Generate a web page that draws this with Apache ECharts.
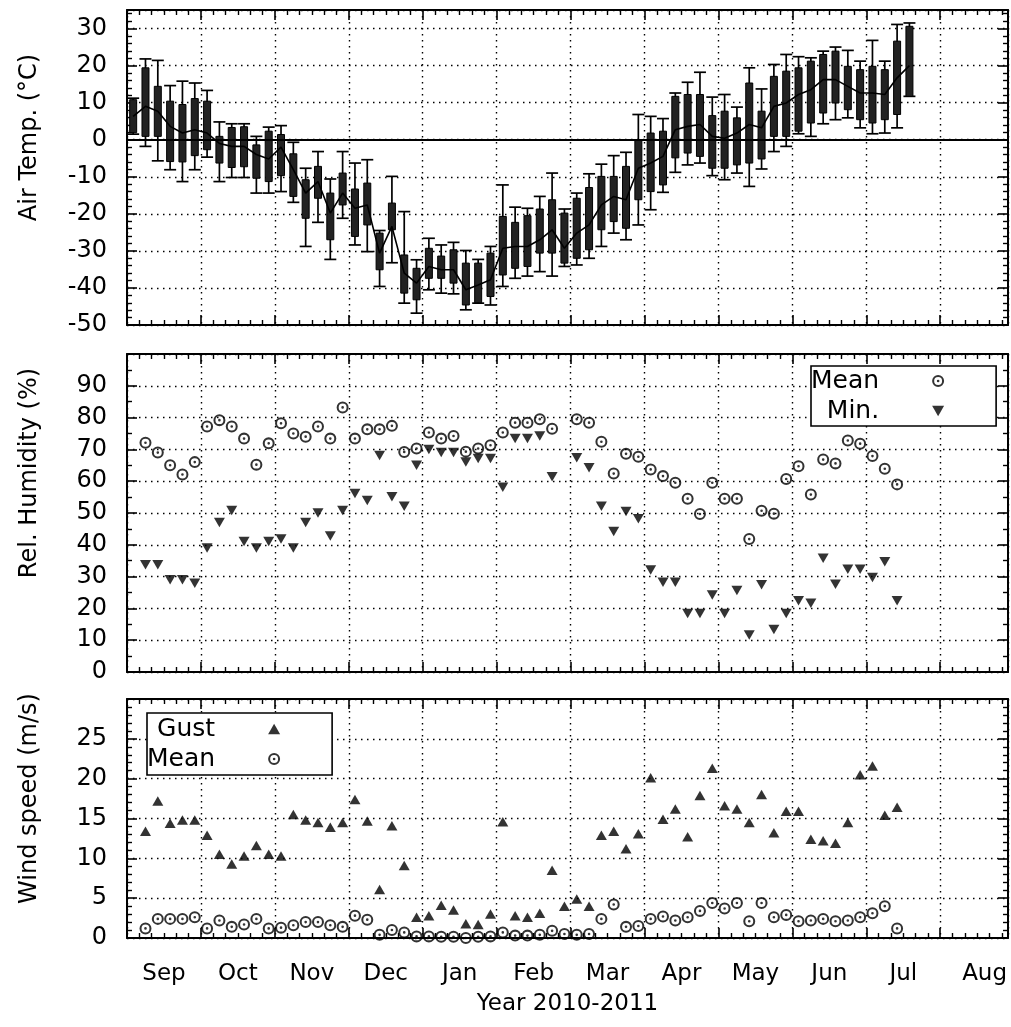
<!DOCTYPE html>
<html>
<head>
<meta charset="utf-8">
<script src="https://cdn.jsdelivr.net/npm/echarts@6/dist/echarts.min.js"></script>
<style>
html, body { margin: 0; padding: 0; background: #fff; }
#chart { width: 1011px; height: 1027px; }
</style>
</head>
<body>
<div id="chart"></div>
<script>
var chart = echarts.init(document.getElementById('chart'), null, { renderer: 'canvas' });
var FONT = 'DejaVu Sans';

// x axis: 5-day periods counted from the start of September 2010 (6 per month)
var monthNames = ['Sep', 'Oct', 'Nov', 'Dec', 'Jan', 'Feb', 'Mar', 'Apr', 'May', 'Jun', 'Jul', 'Aug'];
var monthLabelAt = [2.5, 8.5, 14.5, 20.5, 26.5, 32.5, 38.5, 44.5, 50.5, 56.5, 62.5, 69.1];

// air temperature per period: min, lower box, mean, upper box, max
var tMin = [1.5, -1.8, -5.7, -8.1, -11.3, -8.1, -4.7, -11.3, -10.2, -10.2,
    -14.4, -14.4, -14.0, -16.9, -28.8, -22.3, -32.3, -21.2, -28.4, -30.2,
    -39.6, -33.2, -44.1, -46.8, -40.5, -41.4, -41.6, -45.9, -44.1, -44.6,
    -39.6, -37.4, -36.8, -35.6, -36.8, -34.2, -33.8, -32.0, -28.8, -25.2,
    -27.0, -23.0, -18.9, -14.2, -8.8, -6.8, -6.3, -9.7, -10.8, -9.0,
    -12.6, -7.9, -3.2, -1.8, 1.6, 0.9, 4.3, 5.4, 5.9, 3.2,
    1.6, 1.8, 3.2, 11.7];
var tQ1 = [1.9, 0.9, 0.9, -5.9, -6.0, -4.3, -2.7, -6.3, -7.5, -7.3,
    -10.4, -11.3, -9.7, -15.3, -21.2, -15.8, -27.0, -17.6, -26.1, -23.0,
    -35.1, -24.3, -41.4, -43.2, -37.4, -37.4, -38.7, -44.6, -44.0, -42.3,
    -36.5, -34.7, -34.2, -30.6, -30.6, -33.3, -32.0, -29.7, -24.3, -22.1,
    -23.9, -16.2, -14.0, -12.2, -4.9, -3.6, -4.5, -7.7, -7.7, -6.8,
    -6.3, -5.2, 0.9, 0.9, 2.3, 4.5, 7.2, 9.9, 8.1, 5.4,
    4.5, 5.4, 6.8, 11.7];
var tMean = [6.3, 9.0, 7.7, 3.6, 1.8, 2.7, 1.8, -1.0, -1.8, -1.8,
    -4.0, -5.2, -2.0, -8.1, -14.4, -11.3, -19.8, -14.4, -18.5, -17.6,
    -30.6, -23.4, -36.0, -38.7, -34.2, -35.1, -35.1, -40.5, -39.2, -37.8,
    -29.3, -28.8, -28.8, -27.0, -24.3, -29.3, -25.2, -23.0, -17.6, -15.3,
    -16.2, -7.7, -6.3, -4.5, 2.7, 3.6, 4.1, 0.9, 0.4, 1.8,
    4.1, 3.2, 9.0, 9.9, 12.2, 13.5, 16.2, 16.2, 14.4, 12.6,
    12.6, 12.2, 16.7, 20.0];
var tQ3 = [10.8, 19.4, 14.4, 10.4, 9.5, 11.1, 10.4, 0.9, 3.3, 3.5,
    -1.4, 2.3, 1.4, -3.8, -10.8, -7.2, -14.4, -9.0, -13.3, -11.7,
    -25.2, -17.1, -31.1, -34.7, -29.3, -31.4, -29.7, -33.3, -33.3, -30.6,
    -20.7, -22.3, -20.5, -18.7, -16.2, -19.8, -15.8, -12.9, -9.9, -9.9,
    -7.2, 0.0, 1.8, 2.3, 11.7, 12.2, 12.2, 6.5, 7.7, 5.9,
    15.3, 7.7, 17.1, 18.5, 19.4, 21.2, 23.0, 23.9, 19.8, 18.9,
    19.8, 18.9, 26.6, 30.6];
var tMax = [11.2, 21.8, 21.4, 14.6, 15.8, 15.3, 13.3, 4.8, 4.3, 4.3,
    0.9, 3.4, 3.8, -0.7, -7.7, -3.2, -10.6, -3.2, -6.3, -5.4,
    -24.5, -9.9, -19.4, -32.4, -26.6, -28.4, -27.7, -29.9, -32.3, -28.8,
    -12.2, -18.2, -18.5, -15.3, -9.0, -18.7, -14.4, -9.2, -6.6, -4.3,
    -3.4, 6.8, 6.3, 5.7, 12.6, 15.5, 18.2, 11.5, 12.2, 8.8,
    19.4, 13.7, 20.3, 23.0, 22.4, 22.1, 23.9, 25.0, 24.1, 21.2,
    26.8, 21.2, 31.1, 31.5];

// relative humidity per period (%)
var rhMean = [null, 72.1, 69.0, 65.0, 62.1, 66.0, 77.2, 79.2, 77.2, 73.4,
    65.2, 71.9, 78.2, 75.0, 74.0, 77.2, 73.4, 83.2, 73.4, 76.3,
    76.3, 77.4, 69.2, 70.3, 75.3, 73.4, 74.2, 69.3, 70.3, 71.3,
    75.3, 78.4, 78.4, 79.5, 76.5, null, 79.5, 78.4, 72.4, 62.4,
    68.6, 67.7, 63.7, 61.6, 59.5, 54.5, 49.7, 59.5, 54.5, 54.5,
    41.8, 50.7, 49.8, 60.7, 64.7, 55.8, 66.8, 65.6, 72.8, 71.8,
    67.9, 63.9, 59.0];
var rhMin = [null, 33.7, 33.7, 29.0, 29.0, 27.9, 39.0, 47.0, 50.8, 41.0,
    39.0, 41.0, 41.8, 39.0, 47.0, 50.0, 42.8, 50.8, 56.1, 53.9,
    68.1, 55.1, 52.1, 65.0, 70.0, 69.0, 69.0, 66.0, 67.1, 67.1,
    58.1, 73.4, 73.4, 74.2, 61.4, null, 67.4, 64.2, 52.1, 44.2,
    50.5, 48.2, 32.1, 28.2, 28.2, 18.4, 18.4, 24.2, 18.4, 25.6,
    11.6, 27.4, 13.4, 18.4, 22.4, 21.6, 35.8, 27.6, 32.3, 32.3,
    29.7, 34.7, 22.4];

// wind speed per period (m/s)
var windGust = [null, 13.4, 17.2, 14.4, 14.8, 14.8, 12.9, 10.5, 9.3, 10.3,
    11.6, 10.5, 10.3, 15.5, 14.8, 14.5, 13.9, 14.5, 17.4, 14.7,
    6.1, 14.1, 9.1, 2.6, 2.8, 4.1, 3.5, 1.8, 1.7, 3.0,
    14.6, 2.8, 2.6, 3.1, 8.5, 4.0, 4.9, 4.0, 12.9, 13.4,
    11.2, 13.1, 20.1, 14.9, 16.2, 12.7, 17.9, 21.3, 16.6, 16.2,
    14.5, 18.0, 13.2, 15.9, 15.9, 12.4, 12.2, 11.9, 14.5, 20.5,
    21.6, 15.4, 16.4];
var windMean = [null, 1.2, 2.4, 2.4, 2.4, 2.6, 1.2, 2.2, 1.4, 1.7,
    2.4, 1.2, 1.3, 1.6, 2.0, 2.0, 1.6, 1.4, 2.8, 2.3,
    0.4, 1.0, 0.7, 0.2, 0.2, 0.15, 0.15, 0.0, 0.15, 0.2,
    0.7, 0.3, 0.3, 0.4, 0.9, 0.5, 0.4, 0.5, 2.4, 4.2,
    1.4, 1.5, 2.4, 2.7, 2.2, 2.6, 3.4, 4.4, 3.7, 4.4,
    2.1, 4.4, 2.6, 2.9, 2.1, 2.2, 2.4, 2.1, 2.2, 2.6,
    3.1, 4.0, 1.2];

var legendText = { 'rh mean': 'Mean', 'rh min': 'Min.', 'gust': 'Gust', 'wind mean': 'Mean' };

var RING = 'path://M10,0A10,10,0,1,1,-10,0A10,10,0,1,1,10,0ZM6.6,0A6.6,6.6,0,1,0,-6.6,0A6.6,6.6,0,1,0,6.6,0ZM2.2,0A2.2,2.2,0,1,1,-2.2,0A2.2,2.2,0,1,1,2.2,0Z';
var TRI_DOWN = 'path://M0,0L10,0L5,8.66Z';
var TRI_UP = 'path://M5,0L10,8.66L0,8.66Z';

function pairs(arr) {
    var out = [];
    arr.forEach(function (v, i) {
        if (v !== null) out.push([i, v]);
    });
    return out;
}

var boxData = tMean.map(function (m, i) {
    return [i, tMin[i], tQ1[i], tQ3[i], tMax[i]];
});

var dotted = { color: '#000', width: 1.4, type: [1.5, 4.5] };
var black = { color: '#000', width: 2 };

function xAx(g, pos, labels) {
    var ax = {
        type: 'value', gridIndex: g, position: pos,
        min: -0.5, max: 71, interval: 6,
        axisLine: { show: true, onZero: false, lineStyle: black },
        axisTick: { show: true, inside: true, length: 10, lineStyle: { color: '#000', width: 1.6 } },
        minorTick: { show: true, splitNumber: 6, length: 5, lineStyle: { color: '#000', width: 1.4 } },
        splitLine: { show: pos === 'bottom', lineStyle: dotted },
        axisLabel: { show: false }
    };
    if (labels) {
        ax.axisLabel = {
            show: true, customValues: monthLabelAt, margin: 25,
            fontFamily: FONT, fontSize: 23, color: '#000',
            formatter: function (v) {
                var best = 0;
                monthLabelAt.forEach(function (t, i) {
                    if (Math.abs(t - v) < Math.abs(monthLabelAt[best] - v)) best = i;
                });
                return monthNames[best];
            }
        };
        ax.name = 'Year 2010-2011';
        ax.nameLocation = 'middle';
        ax.nameGap = 55;
        ax.nameTextStyle = { fontFamily: FONT, fontSize: 23, color: '#000' };
    }
    return ax;
}

function yAx(g, pos, min, max, interval, minorSplit, name, shift) {
    var left = pos === 'left';
    var ax = {
        type: 'value', gridIndex: g, position: pos,
        min: min, max: max, interval: interval,
        axisLine: { show: true, onZero: false, lineStyle: black },
        axisTick: { show: true, inside: true, length: 10, lineStyle: { color: '#000', width: 1.6 } },
        minorTick: { show: true, splitNumber: minorSplit, length: 5, lineStyle: { color: '#000', width: 1.4 } },
        splitLine: { show: left, lineStyle: dotted },
        axisLabel: left ? {
            show: true, showMaxLabel: false, margin: 20,
            fontFamily: FONT, fontSize: 24, color: '#000'
        } : { show: false }
    };
    if (left) {
        ax.name = name;
        ax.nameLocation = 'middle';
        ax.nameGap = 85;
        ax.nameTextStyle = { fontFamily: FONT, fontSize: 24, color: '#000', padding: [0, 0, 0, shift] };
    }
    return ax;
}

function renderBox(params, api) {
    var x = api.value(0);
    var lo = api.coord([x, api.value(1)]);
    var q1 = api.coord([x, api.value(2)]);
    var q3 = api.coord([x, api.value(3)]);
    var hi = api.coord([x, api.value(4)]);
    var cx = lo[0];
    var stroke = { stroke: '#000', lineWidth: 1.7 };
    return {
        type: 'group',
        children: [
            { type: 'line', shape: { x1: cx, y1: lo[1], x2: cx, y2: hi[1] }, style: stroke },
            { type: 'line', shape: { x1: cx - 6, y1: lo[1], x2: cx + 6, y2: lo[1] }, style: stroke },
            { type: 'line', shape: { x1: cx - 6, y1: hi[1], x2: cx + 6, y2: hi[1] }, style: stroke },
            {
                type: 'rect',
                shape: { x: cx - 3.5, y: q3[1], width: 7, height: q1[1] - q3[1] },
                style: { fill: '#222', stroke: '#000', lineWidth: 1 }
            }
        ]
    };
}

var legendBase = {
    orient: 'vertical', align: 'right', selectedMode: false,
    itemWidth: 12, itemHeight: 12, itemGap: 4,
    borderColor: '#000', borderWidth: 1.6, backgroundColor: '#fff', borderRadius: 0,
    formatter: function (n) { return legendText[n]; },
    textStyle: {
        fontFamily: FONT, fontSize: 25, color: '#000',
        width: 68, padding: [0, 48, 0, 0], lineHeight: 26
    }
};

chart.setOption({
    animation: false,
    backgroundColor: '#fff',
    grid: [
        { left: 127, top: 10, width: 881, height: 315 },
        { left: 127, top: 354, width: 881, height: 318 },
        { left: 127, top: 699, width: 881, height: 239 }
    ],
    xAxis: [
        xAx(0, 'bottom', false), xAx(0, 'top', false),
        xAx(1, 'bottom', false), xAx(1, 'top', false),
        xAx(2, 'bottom', true), xAx(2, 'top', false)
    ],
    yAxis: [
        yAx(0, 'left', -50, 35, 10, 5, 'Air Temp. (°C)', 60), yAx(0, 'right', -50, 35, 10, 5),
        yAx(1, 'left', 0, 100, 10, 2, 'Rel. Humidity (%)', 80), yAx(1, 'right', 0, 100, 10, 2),
        yAx(2, 'left', 0, 30, 5, 5, 'Wind speed (m/s)', 40), yAx(2, 'right', 0, 30, 5, 5)
    ],
    legend: [
        Object.assign({}, legendBase, {
            left: 811, top: 366, padding: [2, 52, 2, 0],
            data: [{ name: 'rh mean', icon: RING }, { name: 'rh min', icon: TRI_DOWN }]
        }),
        Object.assign({}, legendBase, {
            left: 147, top: 713, padding: [3, 52, 3, 0],
            data: [{ name: 'gust', icon: TRI_UP }, { name: 'wind mean', icon: RING }]
        })
    ],
    series: [
        {
            name: 'temp box', type: 'custom', xAxisIndex: 0, yAxisIndex: 0,
            renderItem: renderBox, data: boxData,
            encode: { x: 0, y: [1, 2, 3, 4] }, z: 3
        },
        {
            name: 'temp mean', type: 'line', xAxisIndex: 0, yAxisIndex: 0,
            data: pairs(tMean), symbol: 'none', z: 4,
            lineStyle: { color: '#000', width: 1.6 },
            markLine: {
                silent: true, symbol: 'none', label: { show: false },
                lineStyle: { color: '#000', width: 2, type: 'solid' },
                data: [{ yAxis: 0 }]
            }
        },
        {
            name: 'rh mean', type: 'scatter', xAxisIndex: 2, yAxisIndex: 2,
            data: pairs(rhMean), symbol: RING, symbolSize: 12,
            itemStyle: { color: '#000' }
        },
        {
            name: 'rh min', type: 'scatter', xAxisIndex: 2, yAxisIndex: 2,
            data: pairs(rhMin), symbol: TRI_DOWN, symbolSize: [11, 9.5],
            itemStyle: { color: '#000' }
        },
        {
            name: 'gust', type: 'scatter', xAxisIndex: 4, yAxisIndex: 4,
            data: pairs(windGust), symbol: TRI_UP, symbolSize: [11, 9.5],
            itemStyle: { color: '#000' }
        },
        {
            name: 'wind mean', type: 'scatter', xAxisIndex: 4, yAxisIndex: 4,
            data: pairs(windMean), symbol: RING, symbolSize: 12,
            itemStyle: { color: '#000' }
        }
    ]
});
</script>
</body>
</html>
